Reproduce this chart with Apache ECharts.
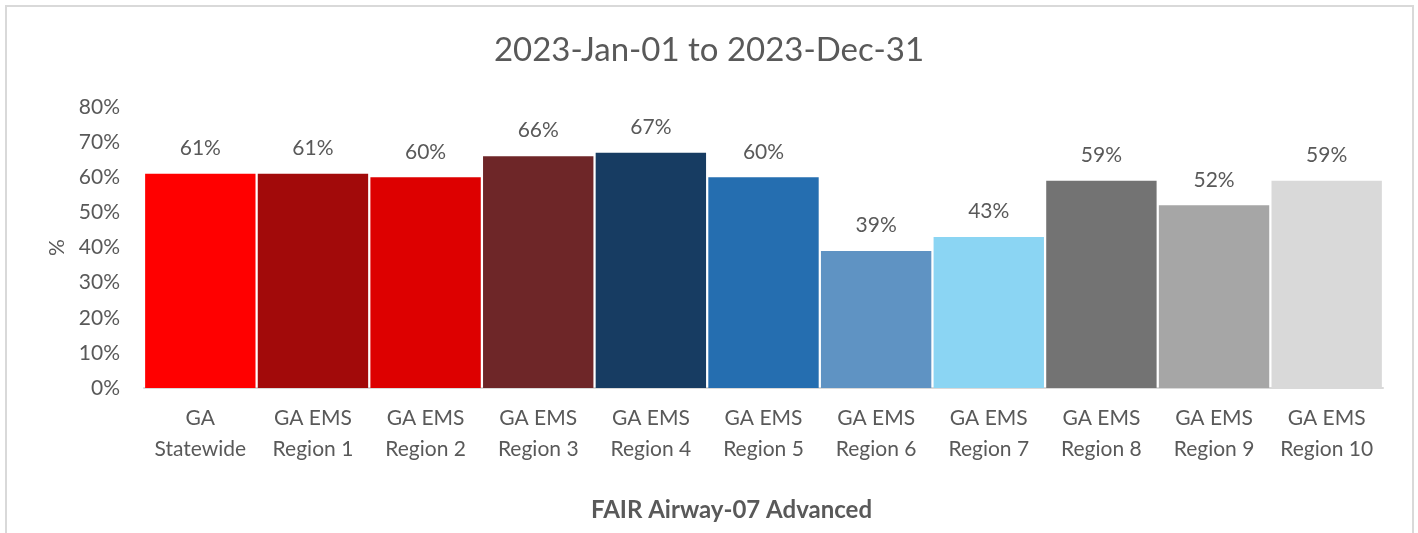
<!doctype html>
<html>
<head>
<meta charset="utf-8">
<title>FAIR Airway-07 Advanced</title>
<script src="https://cdn.jsdelivr.net/npm/echarts@6/dist/echarts.min.js"></script>
<style>
  html, body { margin: 0; padding: 0; background: #fff; }
  #main { width: 1418px; height: 533px; }
</style>
</head>
<body>
<div id="main"></div>
<script>
// data
var categories = ['GA\nStatewide', 'GA EMS\nRegion 1', 'GA EMS\nRegion 2', 'GA EMS\nRegion 3',
  'GA EMS\nRegion 4', 'GA EMS\nRegion 5', 'GA EMS\nRegion 6', 'GA EMS\nRegion 7',
  'GA EMS\nRegion 8', 'GA EMS\nRegion 9', 'GA EMS\nRegion 10'];
var values = [61, 61, 60, 66, 67, 60, 39, 43, 59, 52, 59];
var barColors = ['#ff0000', '#a20a0a', '#dd0000', '#6e2628', '#173c62', '#256eb0',
  '#5f93c3', '#8bd5f3', '#737373', '#a6a6a6', '#d9d9d9'];

var txt = '#595959';
var font = 'Lato, "Open Sans", sans-serif';

var chart = echarts.init(document.getElementById('main'));
var option = {
  animation: false,
  textStyle: { fontFamily: font, color: txt },
  title: {
    text: '2023-Jan-01 to 2023-Dec-31',
    left: 'center',
    top: 29,
    textStyle: { fontFamily: font, fontSize: 33, fontWeight: 'normal', color: txt }
  },
  graphic: [{
    type: 'rect',
    shape: { x: 6, y: 6, width: 1407, height: 560 },
    style: { fill: 'none', stroke: '#d9d9d9', lineWidth: 2 },
    silent: true
  }],
  grid: { left: 144, right: 35, top: 107, bottom: 145 },
  xAxis: {
    type: 'category',
    data: categories,
    name: 'FAIR Airway-07 Advanced',
    nameLocation: 'middle',
    nameGap: 110,
    nameTextStyle: { fontFamily: font, fontSize: 24, fontWeight: 'bold', color: txt, padding: [0, 64, 0, 0] },
    axisLine: { lineStyle: { color: '#d9d9d9', width: 2 } },
    axisTick: { show: false },
    axisLabel: { color: txt, fontSize: 21, lineHeight: 31, margin: 15, interval: 0 }
  },
  yAxis: {
    type: 'value',
    min: 0,
    max: 80,
    interval: 10,
    name: '%',
    nameLocation: 'middle',
    nameGap: 70,
    nameRotate: 90,
    nameTextStyle: { fontFamily: font, fontSize: 21, color: txt },
    splitLine: { show: false },
    axisLine: { show: false },
    axisTick: { show: false },
    axisLabel: { color: txt, fontSize: 21, margin: 24, formatter: '{value}%' }
  },
  series: [{
    type: 'bar',
    data: values.map(function (v, i) {
      return { value: v, itemStyle: { color: barColors[i] } };
    }),
    barCategoryGap: '2%',
    label: {
      show: true,
      position: 'top',
      distance: 15,
      fontSize: 21,
      color: txt,
      fontFamily: font,
      formatter: '{c}%'
    }
  }]
};
chart.setOption(option);
</script>
</body>
</html>
